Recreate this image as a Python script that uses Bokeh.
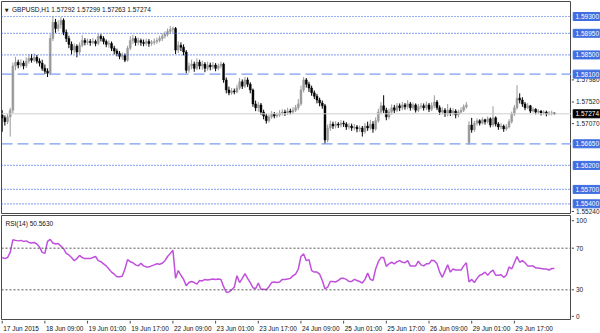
from bokeh.plotting import figure
from bokeh.layouts import row, column
from bokeh.models import Range1d, Span, Label, ColumnDataSource
from bokeh.embed import file_html
from bokeh.resources import INLINE

# ---------------- data ----------------
tick_bars = [0, 16, 32, 48, 64, 80, 96, 112, 128, 144, 160, 176, 192]
tick_labels = ["17 Jun 2015", "18 Jun 09:00", "19 Jun 01:00", "19 Jun 17:00", "22 Jun 09:00",
               "23 Jun 01:00", "23 Jun 17:00", "24 Jun 09:00", "25 Jun 01:00", "25 Jun 17:00",
               "26 Jun 09:00", "29 Jun 01:00", "29 Jun 17:00"]

opens = [1.5725,1.5719,1.5711,1.5721,1.5735,1.5827,1.5835,1.5829,1.5833,1.5827,
 1.5837,1.5843,1.5839,1.5845,1.5837,1.5833,1.5822,1.5816,1.5812,1.5884,
 1.5918,1.5905,1.5913,1.5922,1.5897,1.5884,1.5872,1.5860,1.5868,1.5856,
 1.5870,1.5880,1.5876,1.5878,1.5876,1.5878,1.5874,1.5889,1.5884,1.5878,
 1.5872,1.5874,1.5864,1.5858,1.5853,1.5847,1.5849,1.5839,1.5864,1.5880,
 1.5884,1.5876,1.5880,1.5876,1.5874,1.5878,1.5874,1.5876,1.5878,1.5880,
 1.5884,1.5889,1.5893,1.5899,1.5903,1.5905,1.5860,1.5870,1.5866,1.5856,
 1.5818,1.5827,1.5831,1.5822,1.5835,1.5827,1.5831,1.5822,1.5829,1.5825,
 1.5829,1.5822,1.5827,1.5831,1.5798,1.5777,1.5771,1.5775,1.5773,1.5781,
 1.5794,1.5785,1.5798,1.5789,1.5777,1.5748,1.5740,1.5746,1.5731,1.5723,
 1.5713,1.5721,1.5727,1.5723,1.5725,1.5729,1.5731,1.5729,1.5733,1.5731,
 1.5735,1.5740,1.5748,1.5777,1.5798,1.5789,1.5781,1.5771,1.5764,1.5756,
 1.5750,1.5744,1.5673,1.5698,1.5706,1.5702,1.5706,1.5704,1.5708,1.5706,
 1.5700,1.5702,1.5698,1.5700,1.5696,1.5698,1.5690,1.5702,1.5698,1.5706,
 1.5696,1.5713,1.5731,1.5744,1.5735,1.5721,1.5731,1.5740,1.5735,1.5744,
 1.5740,1.5746,1.5742,1.5748,1.5740,1.5746,1.5735,1.5742,1.5744,1.5740,
 1.5746,1.5737,1.5744,1.5752,1.5740,1.5731,1.5735,1.5727,1.5735,1.5729,
 1.5733,1.5725,1.5731,1.5735,1.5742,1.5667,1.5704,1.5694,1.5708,1.5713,
 1.5708,1.5715,1.5711,1.5717,1.5704,1.5719,1.5706,1.5700,1.5702,1.5696,
 1.5700,1.5711,1.5727,1.5740,1.5760,1.5756,1.5748,1.5740,1.5744,1.5733,
 1.5737,1.5731,1.5733,1.5729,1.5731,1.5727,1.5729,1.57292]

highs = [1.5735,1.5724,1.5727,1.5740,1.5834,1.5846,1.5840,1.5841,1.5838,1.5845,
 1.5851,1.5852,1.5853,1.5850,1.5843,1.5840,1.5830,1.5822,1.5893,1.5930,
 1.5925,1.5922,1.5929,1.5926,1.5903,1.5890,1.5878,1.5874,1.5872,1.5876,
 1.5891,1.5885,1.5884,1.5883,1.5885,1.5882,1.5894,1.5893,1.5889,1.5882,
 1.5880,1.5878,1.5869,1.5863,1.5858,1.5855,1.5853,1.5869,1.5889,1.5892,
 1.5889,1.5886,1.5884,1.5882,1.5884,1.5883,1.5881,1.5884,1.5886,1.5890,
 1.5895,1.5899,1.5905,1.5910,1.5909,1.5908,1.5878,1.5876,1.5872,1.5860,
 1.5834,1.5840,1.5836,1.5843,1.5840,1.5838,1.5835,1.5836,1.5834,1.5835,
 1.5833,1.5832,1.5836,1.5834,1.5803,1.5784,1.5781,1.5780,1.5788,1.5802,
 1.5799,1.5804,1.5803,1.5793,1.5780,1.5755,1.5752,1.5750,1.5736,1.5728,
 1.5726,1.5733,1.5731,1.5730,1.5735,1.5737,1.5736,1.5740,1.5738,1.5741,
 1.5746,1.5758,1.5786,1.5804,1.5802,1.5794,1.5786,1.5776,1.5769,1.5761,
 1.5755,1.5748,1.5705,1.5713,1.5711,1.5712,1.5710,1.5714,1.5713,1.5710,
 1.5708,1.5707,1.5706,1.5704,1.5703,1.5702,1.5708,1.5711,1.5715,1.5712,
 1.5720,1.5738,1.5752,1.5766,1.5740,1.5738,1.5747,1.5746,1.5750,1.5749,
 1.5752,1.5750,1.5756,1.5752,1.5751,1.5749,1.5748,1.5750,1.5749,1.5753,
 1.5750,1.5751,1.5766,1.5756,1.5745,1.5741,1.5739,1.5748,1.5740,1.5739,
 1.5737,1.5736,1.5741,1.5747,1.5752,1.5712,1.5719,1.5713,1.5718,1.5716,
 1.5720,1.5717,1.5722,1.5720,1.5743,1.5722,1.5710,1.5708,1.5705,1.5706,
 1.5716,1.5732,1.5746,1.5787,1.5770,1.5762,1.5752,1.5750,1.5746,1.5741,
 1.5739,1.5737,1.5735,1.5735,1.5734,1.5733,1.5734,1.57299]

lows = [1.5690,1.5703,1.5706,1.5680,1.5729,1.5818,1.5822,1.5824,1.5820,1.5823,
 1.5832,1.5834,1.5835,1.5832,1.5826,1.5817,1.5810,1.5804,1.5808,1.5879,
 1.5896,1.5899,1.5905,1.5891,1.5877,1.5864,1.5851,1.5853,1.5845,1.5851,
 1.5866,1.5870,1.5871,1.5869,1.5872,1.5868,1.5870,1.5878,1.5872,1.5866,
 1.5865,1.5858,1.5851,1.5847,1.5841,1.5840,1.5835,1.5836,1.5860,1.5873,
 1.5869,1.5870,1.5869,1.5868,1.5869,1.5867,1.5869,1.5871,1.5873,1.5876,
 1.5879,1.5884,1.5888,1.5894,1.5896,1.5852,1.5854,1.5858,1.5849,1.5812,
 1.5813,1.5820,1.5815,1.5818,1.5820,1.5819,1.5814,1.5817,1.5818,1.5820,
 1.5816,1.5818,1.5822,1.5792,1.5770,1.5766,1.5767,1.5768,1.5770,1.5777,
 1.5779,1.5781,1.5783,1.5770,1.5742,1.5733,1.5732,1.5725,1.5716,1.5707,
 1.5709,1.5717,1.5718,1.5719,1.5721,1.5724,1.5723,1.5725,1.5726,1.5727,
 1.5731,1.5735,1.5744,1.5772,1.5782,1.5773,1.5765,1.5758,1.5749,1.5743,
 1.5738,1.5665,1.5668,1.5692,1.5696,1.5697,1.5698,1.5699,1.5700,1.5694,
 1.5695,1.5692,1.5693,1.5689,1.5690,1.5680,1.5686,1.5692,1.5694,1.5688,
 1.5692,1.5709,1.5726,1.5729,1.5714,1.5716,1.5726,1.5729,1.5731,1.5733,
 1.5735,1.5736,1.5737,1.5734,1.5736,1.5730,1.5731,1.5737,1.5734,1.5735,
 1.5731,1.5733,1.5739,1.5735,1.5725,1.5726,1.5721,1.5722,1.5723,1.5724,
 1.5718,1.5720,1.5727,1.5731,1.5738,1.5663,1.5688,1.5690,1.5703,1.5703,
 1.5705,1.5705,1.5707,1.5699,1.5700,1.5701,1.5694,1.5695,1.5690,1.5692,
 1.5697,1.5707,1.5723,1.5736,1.5749,1.5742,1.5735,1.5737,1.5729,1.5730,
 1.5726,1.5727,1.5724,1.5725,1.5722,1.5724,1.5724,1.57263]

closes = [1.5719,1.5711,1.5721,1.5735,1.5827,1.5835,1.5829,1.5833,1.5827,1.5837,
 1.5843,1.5839,1.5845,1.5837,1.5833,1.5822,1.5816,1.5812,1.5884,1.5918,
 1.5905,1.5913,1.5922,1.5897,1.5884,1.5872,1.5860,1.5868,1.5856,1.5870,
 1.5880,1.5876,1.5878,1.5876,1.5878,1.5874,1.5889,1.5884,1.5878,1.5872,
 1.5874,1.5864,1.5858,1.5853,1.5847,1.5849,1.5839,1.5864,1.5880,1.5884,
 1.5876,1.5880,1.5876,1.5874,1.5878,1.5874,1.5876,1.5878,1.5880,1.5884,
 1.5889,1.5893,1.5899,1.5903,1.5905,1.5860,1.5870,1.5866,1.5856,1.5818,
 1.5827,1.5831,1.5822,1.5835,1.5827,1.5831,1.5822,1.5829,1.5825,1.5829,
 1.5822,1.5827,1.5831,1.5798,1.5777,1.5771,1.5775,1.5773,1.5781,1.5794,
 1.5785,1.5798,1.5789,1.5777,1.5748,1.5740,1.5746,1.5731,1.5723,1.5713,
 1.5721,1.5727,1.5723,1.5725,1.5729,1.5731,1.5729,1.5733,1.5731,1.5735,
 1.5740,1.5748,1.5777,1.5798,1.5789,1.5781,1.5771,1.5764,1.5756,1.5750,
 1.5744,1.5673,1.5698,1.5706,1.5702,1.5706,1.5704,1.5708,1.5706,1.5700,
 1.5702,1.5698,1.5700,1.5696,1.5698,1.5690,1.5702,1.5698,1.5706,1.5696,
 1.5713,1.5731,1.5744,1.5735,1.5721,1.5731,1.5740,1.5735,1.5744,1.5740,
 1.5746,1.5742,1.5748,1.5740,1.5746,1.5735,1.5742,1.5744,1.5740,1.5746,
 1.5737,1.5744,1.5752,1.5740,1.5731,1.5735,1.5727,1.5735,1.5729,1.5733,
 1.5725,1.5731,1.5735,1.5742,1.5746,1.5704,1.5694,1.5708,1.5713,1.5708,
 1.5715,1.5711,1.5717,1.5704,1.5719,1.5706,1.5700,1.5702,1.5696,1.5700,
 1.5711,1.5727,1.5740,1.5760,1.5756,1.5748,1.5740,1.5744,1.5733,1.5737,
 1.5731,1.5733,1.5729,1.5731,1.5727,1.5729,1.57292,1.57274]

rsi14 = [61,60,61,66,78,77.5,77,77.5,76.5,77,
 75.5,75,75.5,74,71,66,65,76.5,78.5,75,
 74,74.5,72,69.5,65,63.5,61,58,60,63,
 61,60,60,60,61,62,58,57,55,53,
 50,47,45,42.5,42.5,43,50,59,57,56,
 54,53,55.5,53,52,52,53,54,55,54.5,
 55.5,58,62,65,68,41,48.5,44,40,34,
 37,38,37,35.5,39,38.5,40,39.5,40,40.5,
 40,40.5,40,33,27.7,28,30,32.5,43.5,37,
 41,45.5,41,37,32,31,36.5,30.5,30.5,30,
 33,37,37.5,37,37.5,40,40,40.5,41,43.5,
 45,50,62,64.5,58,59,48.5,47,47,45,
 39,31,32.5,38,38,37.5,39,41,41,40,
 38,38,40,39,38,36.5,40,46,40,39,
 50,57,61,61,52.5,55,56.5,55,57,58,
 56.5,56,58,53,53,53,57.5,54,53,55,
 55,58.5,58,55,47,42,48,54,47,50,
 49,49,49,53,56,37.5,40,37,41,44,
 45,47,44,47,49,44,44,44.5,42,44,
 52,50,56,62,56.5,58,56,53,53,53,
 51,51,50.5,50,50,49,50.5,50.563]

levels_dotted = [1.5930, 1.5895, 1.5850, 1.5620, 1.5570, 1.5540]
levels_dashed = [1.5810, 1.5665]
price_ticks = [1.57980, 1.57520, 1.57070, 1.55240]
last_price = 1.57274
header_text = "GBPUSD,H1  1.57292 1.57299 1.57263 1.57274"
rsi_text = "RSI(14) 50.5630"
rsi_levels = [70, 30]
rsi_ticks = [100, 70, 30, 0]

# ---------------- layout constants ----------------
FONT = "Liberation Sans"
FS = "6.5px"
PX_BAR = 2.6675
FRAME_W = 570
X0 = -0.7 / PX_BAR
X1 = X0 + FRAME_W / PX_BAR
PPP = 0.0002082  # price per pixel
Y_TOP = 1.5930 + 15 * PPP
Y_BOT = 1.5930 - 198 * PPP
MAIN_H = 214
RSI_H = 106
XLAB_H = 333 - MAIN_H - RSI_H
RSI_PX = 1.042
R_TOP = 70 + (247.7 - 215) / RSI_PX
R_BOT = 30 - (320 - 289.3) / RSI_PX
FRAME_COL = "#4a4a4a"
BULL = "#9a9a9a"
BEAR = "#000000"
LINE_BLUE = "#3560ea"
DASH_BLUE = "#7d9cf2"
BOX_BLUE = "#3f6ee0"

n = len(closes)
idx = list(range(n))
colors = [BULL if c >= o else BEAR for o, c in zip(opens, closes)]
tops = [max(o, c) for o, c in zip(opens, closes)]
bots = [min(o, c) for o, c in zip(opens, closes)]
src = ColumnDataSource(dict(x=idx, o=opens, h=highs, l=lows, c=closes,
                            top=tops, bot=bots, col=colors))

xr = Range1d(X0, X1)
yr_main = Range1d(Y_BOT, Y_TOP)
yr_rsi = Range1d(R_BOT, R_TOP)


def bare(w, h, xrange, yrange, top=0, bottom=0, left=0):
    f = figure(width=w, height=h, x_range=xrange, y_range=yrange,
               output_backend="svg", toolbar_location=None,
               x_axis_location=None, y_axis_location=None,
               min_border_left=left, min_border_right=0,
               min_border_top=top, min_border_bottom=bottom)
    f.grid.visible = False
    f.outline_line_color = None
    f.background_fill_color = "white"
    f.border_fill_color = "white"
    return f


# ---------------- main price panel ----------------
main = bare(571, MAIN_H, xr, yr_main, top=1, left=1)
main.outline_line_color = FRAME_COL

for lv in levels_dotted:
    main.add_layout(Span(location=lv, dimension="width", line_color=LINE_BLUE,
                         line_dash="1 2", line_width=1.2))
for lv in levels_dashed:
    main.add_layout(Span(location=lv, dimension="width", line_color=DASH_BLUE,
                         line_dash="11 5", line_width=1.3))
main.add_layout(Span(location=last_price, dimension="width", line_color="#cfcfcf", line_width=1))

main.segment(x0="x", y0="h", x1="x", y1="l", source=src, line_color="col", line_width=1)
main.vbar(x="x", top="top", bottom="bot", width=0.72, source=src,
          fill_color="col", line_color="col", line_width=0.5)

main.add_layout(Label(x=X0 + 3.2 / PX_BAR, y=Y_TOP - 8 * PPP, text="\u25BC",
                      text_font="DejaVu Sans", text_font_size="5px", text_color="#222222",
                      text_baseline="middle"))
main.add_layout(Label(x=X0 + 10.5 / PX_BAR, y=Y_TOP - 8 * PPP, text=header_text,
                      text_font=FONT, text_font_size=FS, text_color="#111111",
                      text_baseline="middle"))

# ---------------- main side axis ----------------
side = bare(29, MAIN_H, Range1d(0, 29), yr_main, top=1)
tick_src = ColumnDataSource(dict(y=price_ticks, t=["%.5f" % v for v in price_ticks]))
side.segment(x0=0, y0="y", x1=2.5, y1="y", source=tick_src, line_color=FRAME_COL, line_width=1)
side.text(x=4.5, y="y", text="t", source=tick_src, text_font_size=FS, text_color="#222222",
          text_baseline="middle", text_font={"value": FONT})
box_levels = levels_dotted + levels_dashed
box_src = ColumnDataSource(dict(y=box_levels, t=["%.5f" % v for v in box_levels]))
side.rect(x=15, y="y", width=26.6, height=8, height_units="screen", source=box_src,
          fill_color=BOX_BLUE, line_color=BOX_BLUE)
side.text(x=4, y="y", text="t", source=box_src, text_font_size=FS, text_color="white",
          text_baseline="middle", text_font={"value": FONT})
cur_src = ColumnDataSource(dict(y=[last_price], t=["%.5f" % last_price]))
side.rect(x=15, y="y", width=26.6, height=8, height_units="screen", source=cur_src,
          fill_color="#000000", line_color="#000000")
side.text(x=4, y="y", text="t", source=cur_src, text_font_size=FS, text_color="white",
          text_baseline="middle", text_font={"value": FONT})

# ---------------- RSI panel ----------------
rsi = bare(571, RSI_H, xr, yr_rsi, top=1, left=1)
rsi.outline_line_color = FRAME_COL
for lv in rsi_levels:
    rsi.add_layout(Span(location=lv, dimension="width", line_color="#555555",
                        line_dash="2 2", line_width=1))
rsi.line(idx, rsi14, line_color="#c050dc", line_width=1.5)
rsi.add_layout(Label(x=X0 + 4 / PX_BAR, y=R_TOP - 7.5 * RSI_PX, text=rsi_text,
                     text_font=FONT, text_font_size=FS, text_color="#111111",
                     text_baseline="middle"))

side_r = bare(29, RSI_H, Range1d(0, 29), yr_rsi, top=1)
rpos = [min(max(v, R_BOT + 4), R_TOP - 5) for v in rsi_ticks]
rt_src = ColumnDataSource(dict(y=rpos, t=[str(v) for v in rsi_ticks]))
side_r.segment(x0=0, y0="y", x1=2.5, y1="y", source=rt_src, line_color=FRAME_COL, line_width=1)
side_r.text(x=4.5, y="y", text="t", source=rt_src, text_font_size=FS, text_color="#222222",
            text_baseline="middle", text_font={"value": FONT})

# ---------------- time labels strip ----------------
XL0 = X0 - 1 / PX_BAR
xlab = bare(600, XLAB_H, Range1d(XL0, XL0 + 600 / PX_BAR), Range1d(0, XLAB_H))
lab_src = ColumnDataSource(dict(x=tick_bars, t=tick_labels))
xlab.segment(x0="x", y0=XLAB_H, x1="x", y1=XLAB_H - 3, source=lab_src,
             line_color=FRAME_COL, line_width=1)
xlab.text(x="x", y=XLAB_H - 7.5, text="t", source=lab_src, x_offset=1,
          text_font_size=FS, text_color="#111111", text_align="left",
          text_baseline="middle", text_font={"value": FONT})

layout = column(row(main, side), row(rsi, side_r), xlab)
with open("out.html", "w") as f:
    f.write(file_html(layout, INLINE))
